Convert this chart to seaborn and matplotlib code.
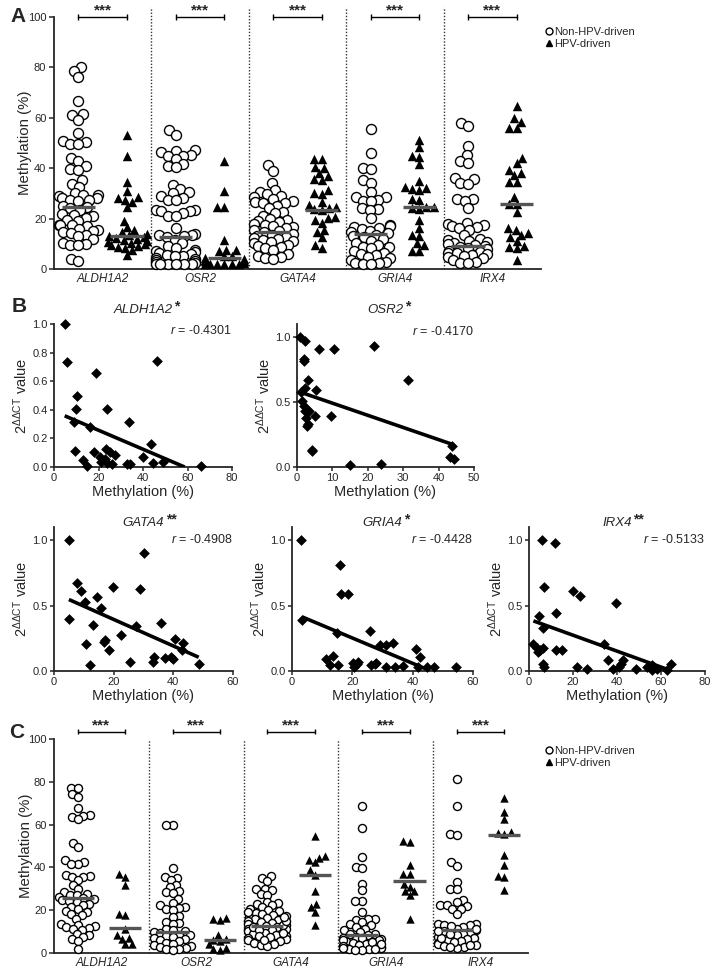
import warnings
import numpy as np
import pandas as pd
import matplotlib
matplotlib.use("Agg")
import matplotlib.pyplot as plt
from matplotlib.lines import Line2D
import seaborn as sns
warnings.filterwarnings("ignore")

sns.set_style("ticks")
plt.rcParams["font.family"] = ["Liberation Sans", "DejaVu Sans"]
plt.rcParams.update({
    "mathtext.fontset": "custom",
    "mathtext.rm": "Liberation Sans",
    "mathtext.it": "Liberation Sans:italic",
    "mathtext.bf": "Liberation Sans:bold",
    "axes.linewidth": 1.3,
    "xtick.major.width": 1.1,
    "ytick.major.width": 1.1,
})

genes = ["ALDH1A2", "OSR2", "GATA4", "GRIA4", "IRX4"]

# ---- panel A: methylation, non-HPV vs HPV ----
a_aldh1a2_non = [80, 78.5, 76, 66.5, 61.5, 61, 59, 54, 50.8, 50.5, 49.7, 49.5, 44, 43, 40.7, 39.5, 39.4,
                 35.4, 33.8, 32.5, 30, 29.5, 29.3, 29, 28.3, 28, 27.5, 27.2, 27, 25, 24.6, 24.2, 23.5, 22,
                 21.5, 21, 20.2, 19.6, 19, 17.6, 17.5, 17.3, 17, 16, 15.6, 15, 14.7, 14.3, 13.6, 13, 11.8,
                 10.3, 10, 9.6, 9.4, 4, 3.3]
a_aldh1a2_hpv = [53, 45, 34.5, 31, 28.5, 28, 27.5, 26.5, 24.5, 19, 16.5, 15.5, 14.5, 14, 13.5, 13.2, 12.8,
                 12.2, 12, 11.5, 11, 10.8, 10.5, 10, 9.6, 9.2, 8.8, 8.5, 7.5, 5.5]
a_osr2_non = [55, 53.3, 47.1, 46.7, 46.3, 45.4, 45, 44.7, 43.7, 41.8, 40.7, 40.3, 33.5, 31.7, 30.4, 30.2,
              28.8, 28.2, 27.5, 27.4, 23.5, 23.3, 23.2, 22.9, 22.2, 21.2, 20.9, 16.3, 13.8, 13.6, 13.5, 13.2,
              12.7, 11.6, 10.3, 9.3, 8.3, 7.7, 7, 6.6, 6.3, 6, 5.7, 5.3, 5, 4.4, 4, 3.7, 3, 2.6, 2.4, 2.1,
              2, 2, 2, 2, 2]
a_osr2_hpv = [43, 31, 24.8, 24.5, 11.4, 7.7, 7.4, 7, 5, 5, 4.4, 4, 3.7, 3, 3, 2.4, 2, 2, 2, 2, 2, 2]
a_gata4_non = [41.4, 39, 34.1, 31.2, 30.7, 29.9, 28.8, 28.6, 27.8, 26.9, 26.7, 26.2, 26.2, 25.1, 24.2, 22.8,
               22.2, 21.2, 19.8, 19.3, 18.9, 18.5, 18, 17.6, 16.9, 16.5, 16.3, 15.6, 15, 14.6, 14, 13.6, 13,
               12.7, 12.3, 11.9, 11.4, 11, 10.6, 10.3, 9.7, 9, 8.7, 8.3, 7.7, 6.1, 5.3, 4.8, 4.4, 4]
a_gata4_hpv = [43.7, 43.5, 40.3, 40, 38, 36.8, 35.7, 35.4, 31.2, 30.2, 29.9, 26.7, 25.5, 24.5, 24.2, 23.7,
               23.3, 20.8, 20.1, 19.4, 18.4, 15.5, 14.8, 12.6, 9.5, 8.2]
a_gria4_non = [55.4, 46.2, 40.2, 39.5, 35.3, 34.3, 30.7, 28.7, 28.4, 27.4, 27.1, 26.8, 24.1, 23.7, 23.4,
               20.4, 17.5, 17.1, 16.8, 16.3, 15.7, 15.2, 14.7, 14.2, 13.5, 13.1, 12.6, 11.8, 11.2, 10.4, 9.5,
               8.9, 8.6, 8.2, 7.3, 6.5, 6, 5.6, 4.9, 4.2, 3.6, 2.9, 2.5, 2.2, 2, 2]
a_gria4_hpv = [51.2, 48.3, 44.8, 44.6, 41.7, 35, 32.4, 32, 31.6, 31.3, 27.6, 27.4, 24.7, 24.5, 24.1, 23.7,
               19.4, 16.1, 13.5, 13.1, 10.2, 9.5, 7.3, 7.3]
a_irx4_non = [58.1, 56.7, 48.8, 45.2, 43, 42.2, 36.2, 35.7, 34, 33.7, 27.6, 27.6, 26.9, 24.1, 18.4, 17.9,
              17.5, 17.1, 16.5, 16.1, 15.5, 13.5, 11.8, 11.5, 11.2, 10.8, 10.4, 9.9, 9.5, 9.1, 8.9, 8.2, 7.8,
              7.3, 6.9, 6.5, 6.2, 6, 5.6, 5.2, 4.6, 4.2, 3.6, 2.9, 2.5, 2.5]
a_irx4_hpv = [64.7, 59.8, 58.5, 56.1, 56.1, 43.9, 41.9, 39.3, 38.2, 37.3, 34.7, 34.7, 28.4, 25.8, 25.8,
              22.8, 16.1, 15.5, 14.2, 13.5, 12.6, 11.2, 9.1, 8.6, 8.2, 3.6]
a_median_non = [24.6, 12.5, 14.8, 14.0, 9.2]
a_median_hpv = [13.2, 4.2, 23.6, 24.8, 25.8]

# ---- panel C: methylation, second cohort ----
c_aldh1a2_non = [77.2, 77.2, 74.1, 72.8, 67.8, 64.4, 63.9, 63.6, 62.4, 51.5, 49.6, 43.4, 42.3, 41.8, 41.8,
                 36.6, 36, 35.6, 35.4, 34, 32, 30.1, 28.5, 27.8, 27.3, 27, 26.2, 25.7, 25.1, 24.6, 24.2,
                 23.9, 23.1, 22.3, 21.5, 20.4, 19.8, 19.2, 18.4, 17.6, 16.1, 13.7, 13.3, 12.6, 12.2, 11.7,
                 11.4, 10.9, 9, 8.3, 7.5, 6.7, 5.5, 2]
c_aldh1a2_hpv = [37, 35.5, 32, 18.4, 17.8, 11, 8.3, 7, 6.7, 4.3, 4.1]
c_osr2_non = [59.7, 59.7, 39.8, 35.6, 35.1, 34, 32, 30.9, 28.9, 28.5, 28.2, 25.1, 23.5, 22.3, 21.5, 21.1,
              20.7, 20, 17.3, 16.8, 14.5, 14.2, 13.7, 11.4, 10.6, 10.1, 9.8, 9.5, 8.6, 8.3, 8, 7.5, 7, 6.4,
              5.9, 5.5, 4.8, 4.4, 3.9, 3.3, 2.8, 2.3, 2, 1.7, 1.2]
c_osr2_hpv = [16.4, 16.1, 15.5, 8.3, 6.5, 6, 5.5, 4, 2.5, 2, 1.5]
c_gata4_non = [36, 35.1, 33.5, 30.1, 29.8, 29.3, 27.8, 27.3, 23.9, 23.5, 23.1, 22.3, 21.5, 20.7, 20, 19.5,
               18.9, 18.4, 17.9, 17.3, 16.8, 16.4, 15.8, 15.3, 14.8, 14.5, 14, 13.6, 12.9, 12.5, 12, 11.4,
               11.1, 10.6, 10.1, 9.5, 9, 8.6, 8, 7.5, 7, 6.4, 5.9, 5.5, 4.8, 4.4, 3.6, 3.3, 12.2, 13.2, 15,
               17, 19, 10.8, 9.2, 7.8, 6]
c_gata4_hpv = [54.6, 45.4, 44.5, 43.5, 42.3, 38.7, 36.5, 28.9, 23.1, 21.5, 19.2, 13.3]
c_gria4_non = [68.8, 58.5, 44.9, 40.2, 39.5, 32.4, 29.3, 24.2, 24.2, 19.2, 16.1, 15.8, 15.3, 14.5, 13.7,
               12.9, 12.2, 11.4, 10.6, 9.8, 9, 8.3, 7.5, 7, 6.4, 5.9, 5.5, 4.8, 4.4, 3.9, 3.3, 2.8, 2.3, 2,
               1.7, 1.2, 8.8, 7.2, 6.1, 5.2, 4.1, 3.1, 2.5, 1.9, 1.5]
c_gria4_hpv = [52.2, 51.9, 41.3, 37.1, 37.1, 32.4, 30.9, 28.9, 28.9, 27, 16.1]
c_irx4_non = [81.2, 68.8, 55.5, 55, 42.3, 40.7, 33.2, 30.1, 29.8, 24.6, 23.9, 22.6, 22.3, 22, 20.7, 20.4,
              18.4, 13.7, 13.6, 13.3, 12.9, 12.2, 11.4, 10.9, 10.1, 9.5, 9, 8.3, 7.5, 7, 6.4, 5.9, 5.5,
              4.8, 4.4, 3.9, 3.3, 2.8, 2.3, 11, 8.8, 6.8, 5, 3.6, 2.6, 12.5, 10.4]
c_irx4_hpv = [72.2, 66, 62.8, 56.6, 56.3, 55.7, 45.7, 41.3, 36, 35.4, 29.3]
c_median_non = [25.7, 9.8, 12.5, 8.4, 10.6]
c_median_hpv = [11.8, 5.9, 36.5, 33.5, 55.0]

# ---- panel B: expression vs methylation ----
b_aldh1a2_x = [4.8, 6, 19, 46.5, 10.5, 9.7, 23.8, 33.7, 8.8, 16, 9.4, 43.8, 18, 23.2, 25, 20.5, 21.3, 22.8,
               23.8, 26, 27.3, 13, 14.8, 33, 34.3, 40, 44.5, 49, 66]
b_aldh1a2_y = [1.0, 0.735, 0.66, 0.744, 0.50, 0.404, 0.406, 0.312, 0.317, 0.277, 0.11, 0.16, 0.108, 0.124,
               0.108, 0.073, 0.038, 0.059, 0.03, 0.019, 0.085, 0.049, 0.007, 0.023, 0.023, 0.073, 0.03,
               0.035, 0.007]
b_osr2_x = [0.9, 2.4, 6.1, 10.5, 21.8, 1.9, 2.0, 31.4, 3.1, 5.4, 2.4, 1.2, 1.5, 1.9, 2.2, 3.4, 2.6, 5.0,
            9.7, 3.1, 2.8, 4.2, 4.3, 43.8, 43.1, 44.4, 15.1, 23.8]
b_osr2_y = [1.0, 0.967, 0.911, 0.911, 0.934, 0.832, 0.814, 0.669, 0.669, 0.59, 0.611, 0.58, 0.509, 0.47,
            0.43, 0.43, 0.38, 0.389, 0.389, 0.33, 0.318, 0.127, 0.12, 0.16, 0.076, 0.058, 0.013, 0.025]
b_gata4_x = [5, 30, 7.7, 8.9, 19.8, 28.7, 10.5, 14.4, 15.9, 5, 13.1, 27.6, 35.8, 22.6, 17, 16.8, 10.6,
             18.4, 40.7, 43.2, 43, 12.2, 25.6, 33.4, 33.2, 37.3, 39.3, 39.9, 48.5]
b_gata4_y = [1.0, 0.898, 0.673, 0.612, 0.643, 0.63, 0.528, 0.566, 0.482, 0.4, 0.349, 0.342, 0.367, 0.273,
             0.24, 0.222, 0.204, 0.163, 0.247, 0.217, 0.158, 0.048, 0.069, 0.107, 0.069, 0.1, 0.107, 0.094,
             0.051]
b_gria4_x = [3.1, 3.4, 15.8, 16.4, 18.6, 14.9, 11.4, 12.7, 13.6, 15.3, 20.2, 20.6, 21.5, 21.9, 25.8, 26.3,
             27.4, 28, 29.1, 31.1, 33.5, 31.3, 34, 36.8, 41.2, 42.3, 41.8, 44.7, 47, 54.5]
b_gria4_y = [1.0, 0.388, 0.81, 0.587, 0.587, 0.291, 0.095, 0.044, 0.112, 0.044, 0.058, 0.031, 0.056, 0.069,
             0.306, 0.044, 0.051, 0.061, 0.197, 0.197, 0.214, 0.031, 0.031, 0.036, 0.171, 0.107, 0.031,
             0.031, 0.031, 0.031]
b_irx4_x = [6.1, 11.8, 6.8, 19.8, 23.2, 39.4, 4.7, 12.3, 6.5, 2, 3.5, 4.2, 5, 6.2, 12.3, 14.8, 34.1, 36.1,
            42.9, 41.7, 41, 6.5, 6.8, 21.7, 26.2, 38.3, 48.6, 53.5, 55.8, 56.8, 58, 55.8, 64.4, 62.6]
b_irx4_y = [1.0, 0.974, 0.643, 0.61, 0.574, 0.52, 0.418, 0.444, 0.332, 0.204, 0.179, 0.145, 0.163, 0.179,
            0.163, 0.163, 0.204, 0.087, 0.087, 0.051, 0.031, 0.056, 0.031, 0.031, 0.018, 0.018, 0.013,
            0.031, 0.043, 0.031, 0.018, 0.005, 0.051, 0.01]
# fitted regression lines (end points)
fit_aldh1a2 = ([4.8, 58.7], [0.358, 0.0])
fit_osr2 = ([0.5, 43.8], [0.58, 0.175])
fit_gata4 = ([5, 48.5], [0.546, 0.105])
fit_gria4 = ([3.4, 45], [0.413, 0.01])
fit_irx4 = ([2, 63.3], [0.383, 0.01])
r_values = ["-0.4301", "-0.4170", "-0.4908", "-0.4428", "-0.5133"]
sig_stars = ["*", "*", "**", "*", "**"]

W, H = 716, 977
fig = plt.figure(figsize=(W / 100, H / 100), dpi=100)


def rect(l, t, r, b):
    return [l / W, 1 - b / H, (r - l) / W, (b - t) / H]


order = [f"{g} {s}" for g in genes for s in ("non", "hpv")]
grow = []  # (collection, final marker size) -> swarm laid out small, drawn bigger (points overlap)


def methylation_panel(ax, non, hpv, med_non, med_hpv, csize, tsize, bracket_y, sep_top):
    df_non = pd.DataFrame([(f"{g} non", v) for g, vals in zip(genes, non) for v in vals],
                          columns=["cat", "value"])
    df_hpv = pd.DataFrame([(f"{g} hpv", v) for g, vals in zip(genes, hpv) for v in vals],
                          columns=["cat", "value"])
    n0 = len(ax.collections)
    sns.swarmplot(data=df_non, x="cat", y="value", order=order, marker="o", color="white",
                  edgecolor="black", linewidth=1.0, size=csize * 0.62, ax=ax)
    grow.extend((c, csize) for c in ax.collections[n0:])
    n0 = len(ax.collections)
    sns.swarmplot(data=df_hpv, x="cat", y="value", order=order, marker="^", color="black",
                  edgecolor="black", linewidth=0, size=tsize * 0.75, ax=ax)
    grow.extend((c, tsize) for c in ax.collections[n0:])
    for coll in ax.collections:
        coll.set_clip_on(False)
    pos = np.arange(0, 10, 2)
    ax.hlines(med_non, pos - 0.34, pos + 0.34, color="#555555", lw=2.4, zorder=6)
    ax.hlines(med_hpv, pos + 1 - 0.34, pos + 1 + 0.34, color="#555555", lw=2.4, zorder=6)
    ax.vlines([1.5, 3.5, 5.5, 7.5], 0, sep_top, color="#333333", lw=1.0,
              linestyle=(0, (1, 1.3)), clip_on=False)
    for p in pos:
        ax.plot([p, p + 1], [bracket_y, bracket_y], color="black", lw=1.0, clip_on=False)
        ax.vlines([p, p + 1], bracket_y - 1.3, bracket_y + 1.3, color="black", lw=1.0, clip_on=False)
        ax.text(p + 0.5, bracket_y - 0.3, "***", ha="center", va="bottom", fontsize=11,
                fontweight="bold")
    ax.set_xlim(-0.5, 9.5)
    ax.set_ylim(0, 100)
    ax.set_yticks([0, 20, 40, 60, 80, 100])
    ax.set_xticks(pos + 0.5)
    ax.set_xticklabels(genes, fontstyle="italic", fontsize=8.5)
    ax.tick_params(axis="x", length=0, pad=3)
    ax.tick_params(axis="y", length=3.5, pad=2, labelsize=8)
    ax.set_xlabel("")
    ax.set_ylabel("Methylation (%)", fontsize=10.8)
    ax.yaxis.set_label_coords(-0.045, 0.5)
    sns.despine(ax=ax)
    handles = [Line2D([], [], marker="o", ls="", mfc="white", mec="black", ms=5, mew=1),
               Line2D([], [], marker="^", ls="", color="black", ms=5)]
    return handles


# panel A
ax_a = fig.add_axes(rect(54, 17, 541, 269))
hA = methylation_panel(ax_a,
                       [a_aldh1a2_non, a_osr2_non, a_gata4_non, a_gria4_non, a_irx4_non],
                       [a_aldh1a2_hpv, a_osr2_hpv, a_gata4_hpv, a_gria4_hpv, a_irx4_hpv],
                       a_median_non, a_median_hpv, 7.2, 6.8, 100, 104)
fig.legend(hA, ["Non-HPV-driven", "HPV-driven"], loc="upper left",
           bbox_to_anchor=(540 / W, 1 - 21 / H), frameon=False, fontsize=8,
           handlelength=0.6, handletextpad=0.15, borderpad=0, labelspacing=0.2)

# panel C
ax_c = fig.add_axes(rect(54, 739, 528, 953))
hC = methylation_panel(ax_c,
                       [c_aldh1a2_non, c_osr2_non, c_gata4_non, c_gria4_non, c_irx4_non],
                       [c_aldh1a2_hpv, c_osr2_hpv, c_gata4_hpv, c_gria4_hpv, c_irx4_hpv],
                       c_median_non, c_median_hpv, 5.8, 6.0, 103.5, 100)
fig.legend(hC, ["Non-HPV-driven", "HPV-driven"], loc="upper left",
           bbox_to_anchor=(540 / W, 1 - 740 / H), frameon=False, fontsize=8,
           handlelength=0.6, handletextpad=0.15, borderpad=0, labelspacing=0.2)

# panel B scatter plots
b_panels = [
    (rect(54, 324, 232, 467), b_aldh1a2_x, b_aldh1a2_y, fit_aldh1a2, (0, 80), [0, 20, 40, 60, 80],
     (0, 1.0), [0, 0.2, 0.4, 0.6, 0.8, 1.0], 1.10, 0.955),
    (rect(297, 324, 474, 467), b_osr2_x, b_osr2_y, fit_osr2, (0, 50), [0, 10, 20, 30, 40, 50],
     (0, 1.1), [0, 0.5, 1.0], 1.10, 0.95),
    (rect(54, 527, 233, 671), b_gata4_x, b_gata4_y, fit_gata4, (0, 60), [0, 20, 40, 60],
     (0, 1.1), [0, 0.5, 1.0], 1.03, 0.915),
    (rect(292, 527, 473, 671), b_gria4_x, b_gria4_y, fit_gria4, (0, 60), [0, 20, 40, 60],
     (0, 1.1), [0, 0.5, 1.0], 1.03, 0.915),
    (rect(529, 527, 705, 671), b_irx4_x, b_irx4_y, fit_irx4, (0, 80), [0, 20, 40, 60, 80],
     (0, 1.1), [0, 0.5, 1.0], 1.03, 0.915),
]
for i, (r_, xs, ys, fit, xl, xt, yl, yt, title_y, r_y) in enumerate(b_panels):
    ax = fig.add_axes(r_)
    sns.scatterplot(x=xs, y=ys, marker="D", color="black", s=30, linewidth=0, ax=ax, clip_on=False,
                    zorder=3)
    ax.plot(fit[0], fit[1], color="black", lw=2.6, solid_capstyle="butt", zorder=4)
    ax.set_xlim(*xl)
    ax.set_ylim(*yl)
    ax.set_xticks(xt)
    ax.set_yticks(yt)
    ax.set_yticklabels([f"{v:.1f}" for v in yt])
    ax.tick_params(length=3, pad=1.5, labelsize=8)
    ax.set_xlabel("Methylation (%)", fontsize=10.5, labelpad=1)
    ax.set_ylabel(r"$2^{\Delta\Delta\mathrm{CT}}$ value", fontsize=10.5)
    ax.yaxis.set_label_coords(-0.135, 0.5)
    sns.despine(ax=ax)
    t = ax.text(0.5, title_y, genes[i], transform=ax.transAxes, ha="center", va="center",
                fontsize=9.5, fontstyle="italic")
    ax.annotate(sig_stars[i], xy=(1, 0.75), xycoords=t, xytext=(1, 0), textcoords="offset points",
                ha="left", va="center", fontsize=10, fontweight="bold")
    ax.text(1.0, r_y, rf"$r$ = {r_values[i]}", transform=ax.transAxes, ha="right", va="center",
            fontsize=9)

# panel letters
for letter, (x, y) in zip("ABC", [(18, 17), (19, 307), (17, 732)]):
    fig.text(x / W, 1 - y / H, letter, ha="center", va="center", fontsize=15, fontweight="bold")

# lay out the swarms with the small markers, freeze them, then draw the real marker size
fig.canvas.draw()
for coll, size in grow:
    if "draw" in coll.__dict__:
        del coll.draw
    coll.set_sizes([size ** 2])

fig.savefig("out.png", dpi=100)
